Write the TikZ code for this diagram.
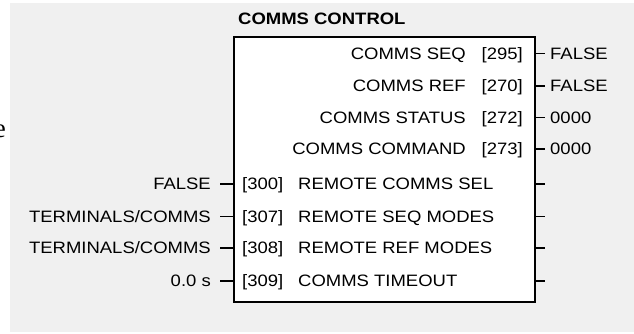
\documentclass[tikz,border=0pt]{standalone}
\usepackage{fontspec}
\setmainfont{Liberation Sans}[FakeStretch=1.12]
\newfontfamily\cutserif{Liberation Serif}
\usetikzlibrary{arrows}
\definecolor{panelgray}{RGB}{240,240,240}

\begin{document}
\begin{tikzpicture}[line cap=butt,line join=miter,x=1pt,y=-1pt,
	lbl/.style={inner sep=0pt,font=\fontsize{16.5}{19}\selectfont},
	stub/.style={line width=1.6pt}]
	\useasboundingbox (0,0) rectangle (634,334);
	\fill [panelgray] (10,3) rectangle (634,332);
	\node [anchor=base east,inner sep=0pt,font=\cutserif\fontsize{27}{30}\selectfont] (cut) at (6,137) {e};
	\node [draw,line width=2.2pt,fill=white,inner sep=0pt,minimum width=301pt,minimum height=264.5pt,anchor=north west] (ctrl) at (232.5,36) {};
	\node [lbl,anchor=base west,font=\bfseries\fontsize{16.5}{19}\selectfont] (title) at (238,25) {COMMS CONTROL};
	
	\node [lbl,anchor=base east] (seqname) at (466,59.2) {COMMS SEQ};
	\node [lbl,anchor=base east] (seqnum) at (523,59.2) {[295]};
	\node [lbl,anchor=base west] (seqval) at (550,59.2) {FALSE};
	\node [lbl,anchor=base east] (refname) at (466,91.7) {COMMS REF};
	\node [lbl,anchor=base east] (refnum) at (523,91.7) {[270]};
	\node [lbl,anchor=base west] (refval) at (550,91.7) {FALSE};
	\node [lbl,anchor=base east] (statname) at (466,123.2) {COMMS STATUS};
	\node [lbl,anchor=base east] (statnum) at (523,123.2) {[272]};
	\node [lbl,anchor=base west] (statval) at (550,123.2) {0000};
	\node [lbl,anchor=base east] (cmdname) at (466,154.7) {COMMS COMMAND};
	\node [lbl,anchor=base east] (cmdnum) at (523,154.7) {[273]};
	\node [lbl,anchor=base west] (cmdval) at (550,154.7) {0000};
	
	\coordinate (seqend) at (545,53.5);
	\coordinate (refend) at (545,86);
	\coordinate (statend) at (545,117.5);
	\coordinate (cmdend) at (545,149);
	\draw [stub] (ctrl.east |- seqend) -- (seqend);
	\draw [stub] (ctrl.east |- refend) -- (refend);
	\draw [stub] (ctrl.east |- statend) -- (statend);
	\draw [stub] (ctrl.east |- cmdend) -- (cmdend);
	
	\node [lbl,anchor=base east] (selval) at (211,189.7) {FALSE};
	\node [lbl,anchor=base west] (selnum) at (242,189.7) {[300]};
	\node [lbl,anchor=base west] (selname) at (298,189.7) {REMOTE COMMS SEL};
	\node [lbl,anchor=base east] (seqmval) at (211,222.2) {TERMINALS/COMMS};
	\node [lbl,anchor=base west] (seqmnum) at (242,222.2) {[307]};
	\node [lbl,anchor=base west] (seqmname) at (298,222.2) {REMOTE SEQ MODES};
	\node [lbl,anchor=base east] (refmval) at (211,253.7) {TERMINALS/COMMS};
	\node [lbl,anchor=base west] (refmnum) at (242,253.7) {[308]};
	\node [lbl,anchor=base west] (refmname) at (298,253.7) {REMOTE REF MODES};
	\node [lbl,anchor=base east] (toval) at (211,286.7) {0.0 s};
	\node [lbl,anchor=base west] (tonum) at (242,286.7) {[309]};
	\node [lbl,anchor=base west] (toname) at (298,286.7) {COMMS TIMEOUT};
	
	\coordinate (selin) at (220,184);
	\coordinate (seqmin) at (220,216.5);
	\coordinate (refmin) at (220,248);
	\coordinate (toin) at (220,281);
	\coordinate (selout) at (545,184);
	\coordinate (seqmout) at (545,216.5);
	\coordinate (refmout) at (545,248);
	\coordinate (toout) at (545,281);
	\draw [stub] (selin) -- (ctrl.west |- selin);
	\draw [stub] (seqmin) -- (ctrl.west |- seqmin);
	\draw [stub] (refmin) -- (ctrl.west |- refmin);
	\draw [stub] (toin) -- (ctrl.west |- toin);
	\draw [stub] (ctrl.east |- selout) -- (selout);
	\draw [stub] (ctrl.east |- seqmout) -- (seqmout);
	\draw [stub] (ctrl.east |- refmout) -- (refmout);
	\draw [stub] (ctrl.east |- toout) -- (toout);
\end{tikzpicture}
\end{document}
